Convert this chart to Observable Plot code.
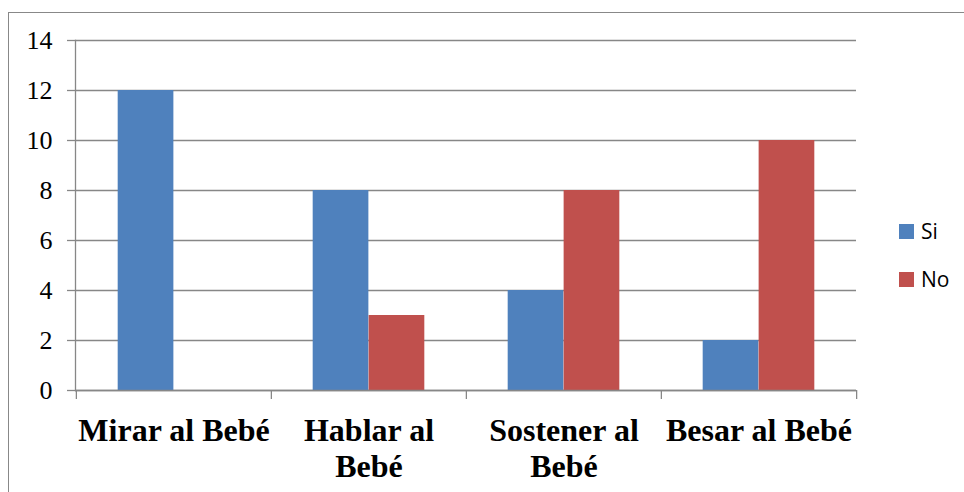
<!DOCTYPE html>
<html>
<head>
<meta charset="utf-8">
<script src="https://cdn.jsdelivr.net/npm/d3@7"></script>
<script src="https://cdn.jsdelivr.net/npm/@observablehq/plot@0.6"></script>
<style>
  html, body { margin: 0; padding: 0; background: #fff; }
  #wrap { position: relative; width: 964px; height: 492px; overflow: hidden; }
  #border { position: absolute; left: 8px; top: 12px; right: -2px; bottom: -2px;
            border-left: 1px solid #888; border-top: 1px solid #888; pointer-events: none; }
  #legend { position: absolute; left: 899px; top: 221px; font-family: "Open Sans", sans-serif; font-size: 21px; color: #000; }
  .item { display: flex; align-items: center; height: 20px; margin-bottom: 28px; }
  .sw { width: 15px; height: 15px; margin-right: 7px; }
  svg text { font-family: "Liberation Serif", "Times New Roman", serif !important; }
  g[aria-label="x-axis tick label"] text { font-weight: bold; }
</style>
</head>
<body>
<div id="wrap"></div>
<script>
const categories = ["Mirar al Bebé", "Hablar al Bebé", "Sostener al Bebé", "Besar al Bebé"];
const categoryLabels = ["Mirar al Bebé", "Hablar al\nBebé", "Sostener al\nBebé", "Besar al Bebé"];
const seriesNames = ["Si", "No"];
const siValues = [12, 8, 4, 2];
const noValues = [0, 3, 8, 10];
const yTicks = [0, 2, 4, 6, 8, 10, 12, 14];
const colors = ["#4F81BD", "#C0504D"];

const data = categories.map((c, i) => ({category: c, si: siValues[i], no: noValues[i]}));
const labelOf = new Map(categories.map((c, i) => [c, categoryLabels[i]]));

const W = 964, H = 492, mL = 75, mR = 108, mT = 40, mB = 102;
const band = (W - mL - mR) / categories.length;
const outer = band * 0.2135, barW = band * 0.2865;
const gray = "#878787";
const serif = "Liberation Serif";

const chart = Plot.plot({
  width: W, height: H,
  marginLeft: mL, marginRight: mR, marginTop: mT, marginBottom: mB,
  x: {domain: categories, padding: 0, label: null},
  y: {domain: [0, 14], label: null},
  style: {fontFamily: "'Liberation Serif', 'Times New Roman', serif", color: "#000", background: "transparent"},
  marks: [
    Plot.gridY(yTicks, {stroke: gray, strokeOpacity: 1, strokeWidth: 1.3}),
    Plot.barY(data, {x: "category", y: "si", fill: colors[0], insetLeft: outer, insetRight: band - outer - barW}),
    Plot.barY(data, {x: "category", y: "no", fill: colors[1], insetLeft: outer + barW, insetRight: outer}),
    Plot.ruleY([0], {stroke: gray, strokeWidth: 1.3}),
    Plot.frame({anchor: "left", stroke: gray, strokeWidth: 1.3}),
    Plot.axisY({ticks: yTicks, tickSize: 8, tickPadding: 15, fontSize: 26, fontFamily: serif, fontVariant: "normal", stroke: gray, strokeWidth: 1.3, strokeOpacity: 1, tickFormat: d => String(d)}),
    Plot.axisX({tickSize: 9, dx: -band / 2, tickFormat: () => "", stroke: gray, strokeWidth: 1.3, strokeOpacity: 1}),
    Plot.axisX({ticks: [categories[categories.length - 1]], tickSize: 9, dx: band / 2, tickFormat: () => "", stroke: gray, strokeWidth: 1.3, strokeOpacity: 1}),
    Plot.axisX({tickSize: 0, tickPadding: 25, fontSize: 32, fontFamily: serif, fontWeight: "bold", lineHeight: 1.125, tickFormat: d => labelOf.get(d)})
  ]
});

const wrap = document.getElementById("wrap");
wrap.appendChild(chart);

const legend = document.createElement("div");
legend.id = "legend";
seriesNames.forEach((s, i) => {
  const it = document.createElement("div");
  it.className = "item";
  const sw = document.createElement("div");
  sw.className = "sw";
  sw.style.background = colors[i];
  const t = document.createElement("span");
  t.textContent = s;
  it.appendChild(sw); it.appendChild(t);
  legend.appendChild(it);
});
wrap.appendChild(legend);

const border = document.createElement("div");
border.id = "border";
wrap.appendChild(border);
</script>
</body>
</html>
